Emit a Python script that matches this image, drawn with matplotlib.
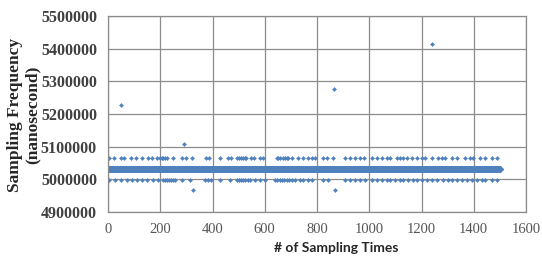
import numpy as np
import matplotlib
matplotlib.use("Agg")
import matplotlib.pyplot as plt

# ---- data ----
n_samples = 1500
band_value = 5032000          # the dense main band
upper_value = 5065000         # scattered upper dots
lower_value = 4999000         # scattered lower dots

upper_x = [3, 23, 49, 61, 87, 109, 132, 153, 170, 188, 200, 206, 212, 218, 225,
           249, 284, 300, 322, 377, 387, 428, 458, 470, 492, 500, 508, 516, 524,
           530, 547, 560, 582, 594, 645, 652, 660, 668, 676, 684, 690, 703, 728,
           748, 767, 780, 792, 824, 837, 863, 907, 927, 946, 965, 978, 1010,
           1029, 1048, 1067, 1080, 1105, 1118, 1131, 1144, 1163, 1182, 1201,
           1214, 1240, 1265, 1278, 1291, 1316, 1335, 1367, 1387, 1399, 1425,
           1444, 1470, 1489]
lower_x = [3, 26, 49, 71, 90, 112, 132, 151, 173, 192, 211, 218, 226, 234, 242,
           250, 256, 284, 313, 371, 383, 396, 428, 466, 492, 500, 508, 516, 524,
           537, 543, 562, 582, 601, 639, 648, 657, 666, 675, 684, 693, 703, 716,
           735, 748, 767, 780, 824, 843, 907, 927, 946, 965, 984, 1010, 1029,
           1048, 1067, 1080, 1099, 1118, 1131, 1150, 1169, 1182, 1201, 1220,
           1240, 1259, 1284, 1303, 1316, 1335, 1355, 1374, 1393, 1412, 1431,
           1444, 1470, 1489]
outlier_x = [50, 289, 327, 866, 870, 1240]
outlier_y = [5228000, 5108000, 4967000, 5276000, 4966000, 5415000]

x_ticks = [0, 200, 400, 600, 800, 1000, 1200, 1400, 1600]
y_ticks = [4900000, 5000000, 5100000, 5200000, 5300000, 5400000, 5500000]

# ---- build series ----
sample_x = np.arange(1, n_samples + 1)
band_y = np.full(n_samples, band_value, dtype=float)

sx = np.concatenate([upper_x, lower_x, outlier_x])
sy = np.concatenate([np.full(len(upper_x), upper_value),
                     np.full(len(lower_x), lower_value),
                     outlier_y])

fig = plt.figure(figsize=(5.42, 2.59), dpi=100)
ax = fig.add_axes([108/542, 1 - 212/259, (526-108)/542, (212-16)/259])

color = "#4F81BD"
ax.plot(sample_x, band_y, linestyle="none", marker="D", markersize=3.4,
        markerfacecolor=color, markeredgecolor=color, markeredgewidth=0.3)
ax.plot(sx, sy, linestyle="none", marker="D", markersize=2.1,
        markerfacecolor=color, markeredgecolor=color, markeredgewidth=0.3)

ax.set_xlim(0, 1600)
ax.set_ylim(4900000, 5500000)
ax.set_xticks(x_ticks)
ax.set_yticks(y_ticks)
ax.set_xticklabels([str(v) for v in x_ticks], family="Liberation Serif",
                   fontsize=10.5, color="#555555")
ax.set_yticklabels([str(v) for v in y_ticks], family="Liberation Serif",
                   fontsize=11.5, fontweight="bold", color="#404040")
ax.grid(True, color="#8c8c8c", linewidth=0.9)
ax.set_axisbelow(True)
for s in ax.spines.values():
    s.set_color("#8c8c8c")
    s.set_linewidth(0.9)
ax.tick_params(length=0, pad=8)

ax.set_xlabel("# of Sampling Times", family="Lato", fontweight="bold",
              fontsize=10, color="#262626")
ax.xaxis.set_label_coords(0.545, -0.155)
fig.text(24/542, 1 - 115/259, "Sampling Frequency\n(nanosecond)",
         rotation=90, ha="center", va="center", family="Liberation Serif",
         fontweight="bold", fontsize=12.5, color="#262626", linespacing=1.12)

fig.savefig("out.png", dpi=100)
